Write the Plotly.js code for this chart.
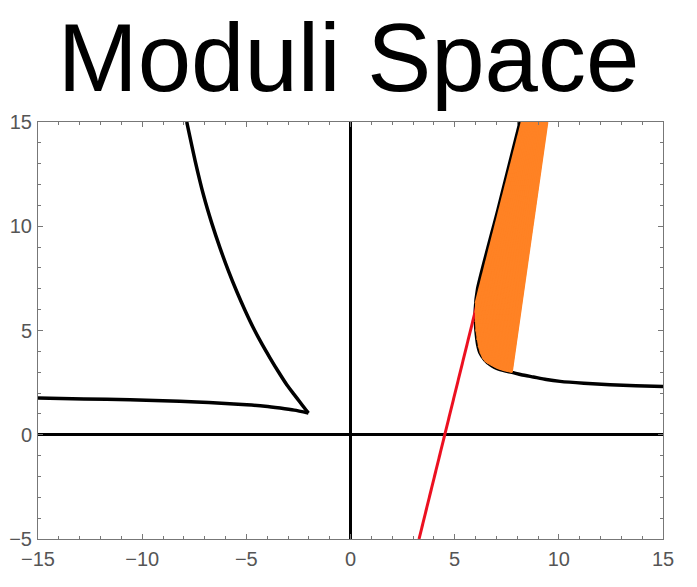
<!DOCTYPE html>
<html>
<head>
<meta charset="utf-8">
<script src="https://cdn.plot.ly/plotly-3.0.1.min.js"></script>
<style>
  html, body { margin: 0; padding: 0; background: #fff; }
  #plot { width: 697px; height: 587px; }
</style>
</head>
<body>
<div id="plot"></div>
<script>
// Left branch, upper arm (down to the cusp)
const leftUpperX = [-7.86, -7.46, -7.06, -6.66, -6.26, -5.86, -5.46, -5.06, -4.66, -4.26, -3.86, -3.46, -3.06, -2.72, -2.42, -2.20, -2.02];
const leftUpperY = [15, 13.15, 11.51, 10.15, 8.95, 7.86, 6.87, 5.96, 5.12, 4.37, 3.68, 3.02, 2.40, 1.95, 1.56, 1.27, 1.04];

// Left branch, lower arm (from the left edge to the cusp)
const leftLowerX = [-15, -12.8, -10.58, -9.0, -7.38, -6.2, -4.98, -4.1, -3.38, -2.7, -2.02];
const leftLowerY = [1.76, 1.72, 1.68, 1.63, 1.57, 1.51, 1.44, 1.37, 1.28, 1.18, 1.04];

// Right branch
const rightX = [15, 13.7, 12.46, 11.2, 10.06, 9.4, 8.78, 8.2, 7.74, 7.45, 7.18, 6.92, 6.70, 6.45, 6.22, 6.10, 6.04, 6.00, 5.99, 6.10, 7.08, 8.14];
const rightY = [2.32, 2.35, 2.40, 2.47, 2.56, 2.65, 2.77, 2.88, 2.99, 3.05, 3.12, 3.23, 3.36, 3.58, 3.92, 4.35, 4.80, 5.30, 6.0, 7.0, 10.8, 15];

// Red line
const redX = [3.29, 6.22];
const redY = [-5, 6.87];

// Orange fan: base points on the curve, end points on the top edge
const fanBaseX = [6.00, 5.99, 6.00, 6.03, 6.08, 6.15, 6.24, 6.35, 6.48, 6.62, 6.77, 6.92, 7.07, 7.22, 7.37, 7.51, 7.63, 7.74];
const fanBaseY = [6.30, 5.85, 5.40, 4.95, 4.55, 4.20, 3.90, 3.66, 3.49, 3.40, 3.32, 3.24, 3.17, 3.11, 3.07, 3.04, 3.01, 2.99];
const fanTopX = [8.22, 8.29, 8.36, 8.44, 8.51, 8.58, 8.65, 8.72, 8.80, 8.87, 8.94, 9.01, 9.08, 9.16, 9.23, 9.30, 9.38, 9.45];
const fanTopY = [15, 15, 15, 15, 15, 15, 15, 15, 15, 15, 15, 15, 15, 15, 15, 15, 15, 15];

const black = '#000000';
const orange = '#ff8224';
const red = '#ec1020';

const traceLeftUpper = {
    x: leftUpperX, y: leftUpperY, mode: 'lines',
    line: {color: black, width: 3.5, shape: 'spline', smoothing: 0.6}, hoverinfo: 'skip'
};
const traceLeftLower = {
    x: leftLowerX, y: leftLowerY, mode: 'lines',
    line: {color: black, width: 3.5, shape: 'spline', smoothing: 0.6}, hoverinfo: 'skip'
};
const traceRight = {
    x: rightX, y: rightY, mode: 'lines',
    line: {color: black, width: 3.5, shape: 'spline', smoothing: 0.6}, hoverinfo: 'skip'
};
const traceRed = {
    x: redX, y: redY, mode: 'lines',
    line: {color: red, width: 3}, hoverinfo: 'skip'
};

// filled band under the fan lines
const fillX = fanBaseX.concat(fanTopX.slice().reverse());
const fillY = fanBaseY.concat(fanTopY.slice().reverse());
const traceFanFill = {
    x: fillX, y: fillY, mode: 'lines', fill: 'toself',
    fillcolor: orange, line: {color: orange, width: 1}, hoverinfo: 'skip'
};

// each fan segment, separated by nulls
const segX = [], segY = [];
fanBaseX.forEach((bx, i) => {
    segX.push(bx, fanTopX[i], null);
    segY.push(fanBaseY[i], fanTopY[i], null);
});
const traceFanLines = {
    x: segX, y: segY, mode: 'lines',
    line: {color: orange, width: 2}, hoverinfo: 'skip'
};

const tickFont = {family: 'Liberation Sans, Arial, sans-serif', size: 20, color: '#555555'};

const axisCommon = {
    showgrid: false,
    showline: true,
    linecolor: '#777777',
    linewidth: 1,
    mirror: 'ticks',
    ticks: 'inside',
    ticklen: 5,
    tickcolor: '#777777',
    tickwidth: 1,
    tickfont: tickFont,
    zeroline: true,
    zerolinecolor: black,
    fixedrange: true
};

const layout = {
    width: 697,
    height: 587,
    margin: {l: 38, r: 34, t: 122, b: 48},
    paper_bgcolor: '#ffffff',
    plot_bgcolor: '#ffffff',
    showlegend: false,
    title: {
        text: 'Moduli Space',
        font: {family: 'Liberation Sans, Arial, sans-serif', size: 96, color: black},
        x: 0.5, xanchor: 'center',
        y: 1, yref: 'paper', yanchor: 'bottom',
        pad: {b: 31}
    },
    xaxis: Object.assign({}, axisCommon, {
        range: [-15, 15],
        tick0: -15, dtick: 5,
        zerolinewidth: 2.5,
        ticklabelstandoff: 2,
        minor: {ticks: 'inside', dtick: 1, ticklen: 3, tickcolor: '#777777'}
    }),
    yaxis: Object.assign({}, axisCommon, {
        range: [-5, 15],
        tick0: -5, dtick: 5,
        zerolinewidth: 3,
        ticklabelstandoff: 1,
        minor: {ticks: 'inside', dtick: 1, ticklen: 3, tickcolor: '#777777'}
    })
};

Plotly.newPlot('plot',
    [traceLeftUpper, traceLeftLower, traceRight, traceRed, traceFanFill, traceFanLines],
    layout, {displayModeBar: false, staticPlot: true});
</script>
</body>
</html>
